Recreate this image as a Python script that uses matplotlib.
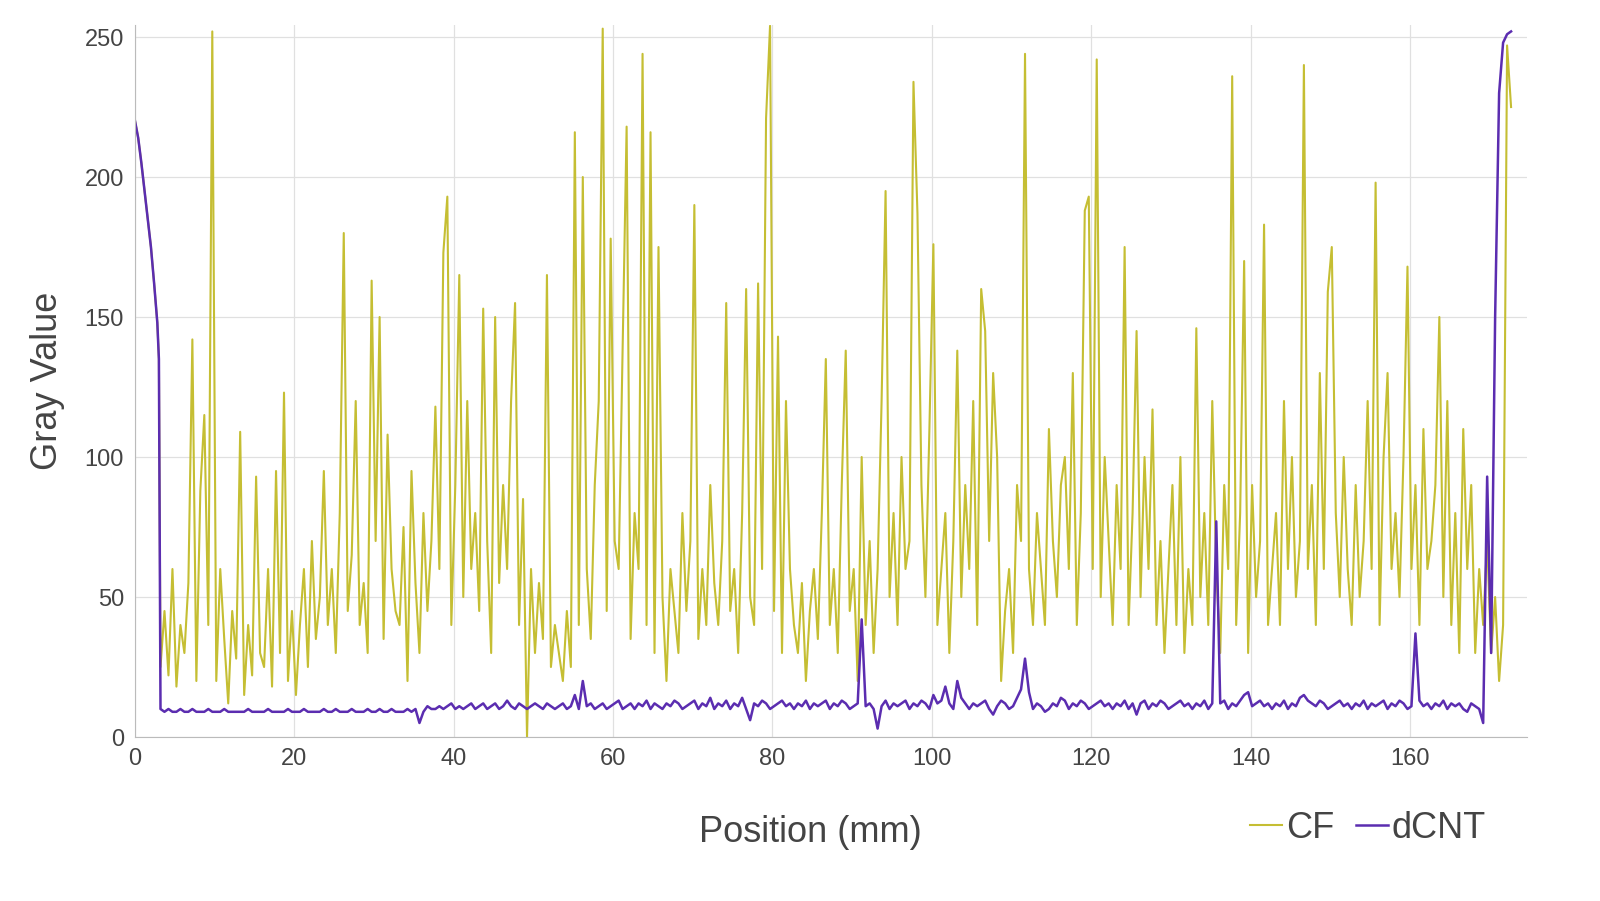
import matplotlib
matplotlib.use("Agg")
import matplotlib.pyplot as plt
import numpy as np

plt.rcParams['font.family'] = ['Liberation Sans', 'DejaVu Sans']

head_pos = [0.0, 0.4, 0.8, 1.2, 1.6, 2.0, 2.4, 2.8, 3.0]
head_val = [220, 214, 205, 195, 185, 175, 162, 148, 135]

body_start, body_step = 3.2, 0.5
cf_vals = [
 25,45,22,60,18,40,30,55,142,20,88,115,40,252,20,60,35,12,45,28,
 109,15,40,22,93,30,25,60,18,95,30,123,20,45,15,40,60,25,70,35,
 50,95,40,60,30,80,180,45,65,120,40,55,30,163,70,150,35,108,60,45,
 40,75,20,95,55,30,80,45,70,118,60,173,193,40,90,165,50,120,60,80,
 45,153,70,30,150,55,90,60,120,155,40,85,0,60,30,55,35,165,25,40,
 30,20,45,25,216,40,200,60,35,90,120,253,45,178,70,60,140,218,35,80,
 60,244,40,216,30,175,50,20,60,45,30,80,45,70,190,35,60,40,90,55,
 40,70,155,45,60,30,80,160,50,40,162,60,221,254,45,143,30,120,60,40,
 30,55,20,45,60,35,80,135,40,60,30,90,138,45,60,20,100,40,70,30,
 60,120,195,50,80,40,100,60,70,234,187,90,50,110,176,40,60,80,30,70,
 138,50,90,60,120,40,160,145,70,130,100,20,45,60,30,90,70,244,60,40,
 80,60,40,110,70,50,90,100,60,130,40,80,188,193,60,242,50,100,70,40,
 90,60,175,40,80,145,50,100,60,117,40,70,30,60,90,40,100,30,60,40,
 146,50,80,40,120,60,30,90,60,236,40,80,170,30,90,50,70,183,40,60,
 80,40,120,60,100,50,70,240,60,90,40,130,60,159,175,80,50,100,60,40,
 90,50,70,120,60,198,40,100,130,60,80,50,100,168,60,90,40,110,60,70,
 90,150,50,120,40,80,30,110,60,90,30,60,40,70,30,50,20,40,247,225,
]
dcnt_vals = [
 10,9,10,9,9,10,9,9,10,9,9,9,10,9,9,9,10,9,9,9,
 9,9,10,9,9,9,9,10,9,9,9,9,10,9,9,9,10,9,9,9,
 9,10,9,9,10,9,9,9,10,9,9,9,10,9,9,10,9,9,10,9,
 9,9,10,9,10,5,9,11,10,10,11,10,11,12,10,11,10,11,12,10,
 11,12,10,11,12,10,11,13,11,10,12,11,10,11,12,11,10,12,11,10,
 11,12,10,11,15,10,20,11,12,10,11,12,10,11,12,13,10,11,12,10,
 12,11,13,10,12,11,10,12,11,13,12,10,11,12,13,10,12,11,14,10,
 12,11,13,10,12,11,14,10,6,12,11,13,12,10,11,12,13,11,12,10,
 12,11,13,10,12,11,12,13,10,12,11,13,12,10,11,12,42,11,12,10,
 3,11,13,10,12,11,12,13,10,12,11,13,12,10,15,12,13,18,12,10,
 20,14,12,10,12,11,12,13,10,8,11,13,12,10,11,14,17,28,16,10,
 12,11,9,10,12,11,14,13,10,12,11,13,12,10,11,12,13,11,12,10,
 12,11,13,10,12,8,12,13,10,12,11,13,12,10,11,12,13,11,12,10,
 12,11,13,10,12,77,12,13,10,12,11,13,15,16,11,12,13,11,12,10,
 12,11,13,10,12,11,14,15,13,12,11,13,12,10,11,12,13,11,12,10,
 12,11,13,10,12,11,12,13,10,12,11,13,12,10,11,37,13,11,12,10,
 12,11,13,10,12,11,12,10,9,12,11,10,5,93,30,150,230,248,251,252,
]

body_pos = body_start + body_step * np.arange(len(cf_vals))
cf_x = np.concatenate([head_pos, body_pos])
cf_y = np.concatenate([head_val, cf_vals])
d_x = np.concatenate([head_pos, body_start + body_step * np.arange(len(dcnt_vals))])
d_y = np.concatenate([head_val, dcnt_vals])

fig = plt.figure(figsize=(16, 9.01), dpi=100)
ax = fig.add_axes([135/1600, 1-737/901, (1527-135)/1600, (737-25)/901])
ax.plot(cf_x, cf_y, color='#C5BE33', lw=1.5, label='CF')
ax.plot(d_x, d_y, color='#5B2DB0', lw=1.8, label='dCNT')
ax.set_xlim(0, 174.7)
ax.set_ylim(0, 254.3)
ax.set_xticks(range(0, 161, 20))
ax.set_yticks(range(0, 251, 50))
ax.grid(True, color='#e0e0e0', lw=0.9)
ax.set_axisbelow(True)
for s in ['top', 'right']:
    ax.spines[s].set_visible(False)
for s in ['left', 'bottom']:
    ax.spines[s].set_color('#bbbbbb')
ax.tick_params(colors='#444444', labelsize=17, length=0, pad=8)
ax.set_ylabel('Gray Value', fontsize=26, color='#444444', labelpad=14)
fig.text(810/1600, 1-833/901, 'Position (mm)', fontsize=26, color='#444444', ha='center', va='center')
leg = fig.legend(loc='center', bbox_to_anchor=(1368/1600, 1-828/901), ncol=2, frameon=False,
                 fontsize=26, handlelength=0.9, handletextpad=0.1, columnspacing=0.6, labelcolor='#444444')
fig.savefig('out.png', dpi=100)
